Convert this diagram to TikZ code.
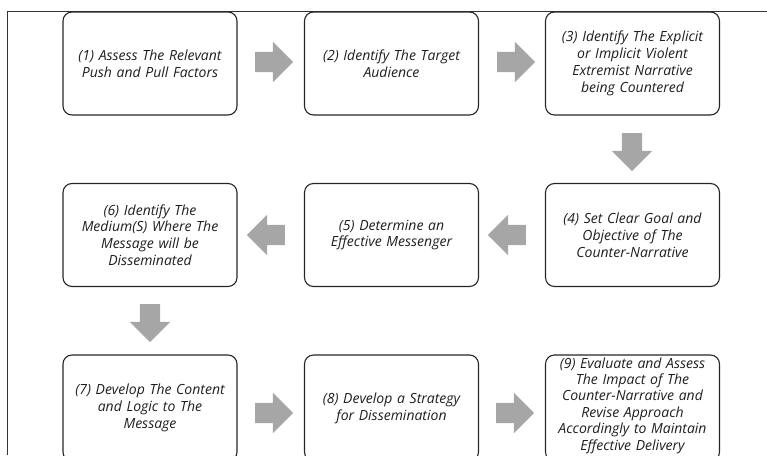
\documentclass[tikz,border=0pt]{standalone}
\usepackage{fontspec}
\setmainfont{Open Sans}
\usetikzlibrary{shapes.arrows}
\definecolor{arrowgray}{RGB}{166,166,166}
\definecolor{txtgray}{RGB}{30,30,30}
\tikzset{
  stepbox/.style={draw=black!85, line width=1.1pt, rounded corners=9pt,
    minimum width=174pt, minimum height=103pt, text width=168pt, align=center,
    font=\fontsize{14}{16.8}\selectfont\itshape, text=txtgray, inner sep=0pt},
  bigarrow/.style={single arrow, fill=arrowgray, draw=none, inner sep=10pt,
    single arrow head extend=10pt, minimum height=38pt, single arrow tip angle=90},
  frameline/.style={line width=0.8pt, draw=black!80}
}
\begin{document}
\begin{tikzpicture}[x=1pt,y=-1pt]
\useasboundingbox (0,0) rectangle (767,455);
\begin{scope}
\clip (0,0) rectangle (767,455);
\coordinate (fl) at (7,455);
\coordinate (fc) at (7,11);
\coordinate (fr) at (767,11);
\draw[frameline] (fl) -- (fc) -- (fr);
% row 1
\node[stepbox] (b1) at (150,63.5) {(1) Assess The Relevant\\Push and Pull Factors};
\node[stepbox] (b2) at (391.5,63.5) {(2) Identify The Target\\Audience};
\node[stepbox] (b3) at (632.5,63.5) {(3) Identify The Explicit\\or Implicit Violent\\Extremist Narrative\\being Countered};
% row 2
\node[stepbox] (b4) at (632.5,235) {(4) Set Clear Goal and\\Objective of The\\Counter-Narrative};
\node[stepbox] (b5) at (391.5,235) {(5) Determine an\\Effective Messenger};
\node[stepbox] (b6) at (150,235) {(6) Identify The\\Medium(S) Where The\\Message will be\\Disseminated};
% row 3
\node[stepbox, minimum height=106pt] (b7) at (150,408) {(7) Develop The Content\\and Logic to The\\Message};
\node[stepbox, minimum height=106pt] (b8) at (391.5,408) {(8) Develop a Strategy\\for Dissemination};
\node[stepbox, minimum height=106pt, font=\fontsize{14}{16.4}\selectfont\itshape] (b9) at (632.5,408) {};
\node[font=\fontsize{14}{16.4}\selectfont\itshape, text=txtgray, text width=168pt, align=center, inner sep=0pt] (t9) at (632.5,405.5) {(9) Evaluate and Assess\\The Impact of The\\Counter-Narrative and\\Revise Approach\\Accordingly to Maintain\\Effective Delivery};
% arrows
\node[bigarrow] (a12) at (269,62) {};
\node[bigarrow] (a23) at (511,62) {};
\node[bigarrow, shape border rotate=270] (a34) at (632,147) {};
\node[bigarrow, shape border rotate=180] (a45) at (512,235) {};
\node[bigarrow, shape border rotate=180] (a56) at (271,235) {};
\node[bigarrow, shape border rotate=270] (a67) at (150,318) {};
\node[bigarrow] (a78) at (269,413) {};
\node[bigarrow] (a89) at (510,413) {};
\end{scope}
\end{tikzpicture}
\end{document}
